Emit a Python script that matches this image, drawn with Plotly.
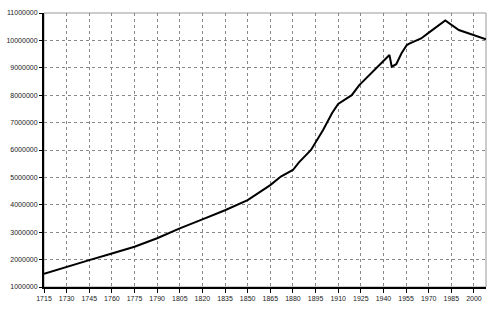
import plotly.graph_objects as go

years = [1715, 1730, 1745, 1760, 1775, 1790, 1805, 1820, 1835, 1850, 1865, 1872, 1880,
         1884, 1892, 1900, 1906, 1910, 1914, 1919, 1924, 1933, 1940, 1944,
         1945.5, 1948.5, 1952, 1955.5, 1957.5, 1965, 1971, 1981, 1990, 2008]
population = [1480000, 1740000, 1980000, 2220000, 2470000, 2780000, 3140000, 3470000,
              3800000, 4170000, 4720000, 5030000, 5270000,
              5550000, 6000000, 6730000, 7350000, 7680000, 7820000, 8000000, 8370000,
              8850000, 9220000, 9470000,
              9040000, 9130000, 9530000, 9830000, 9890000, 10070000, 10320000, 10730000,
              10380000, 10040000]

x_ticks = list(range(1715, 2001, 15))
y_ticks = list(range(1000000, 11000001, 1000000))

fig = go.Figure()
fig.add_trace(go.Scatter(x=years, y=population, mode="lines",
                         line=dict(color="black", width=2), hoverinfo="skip"))

fig.update_layout(
    width=500, height=311,
    margin=dict(l=44, r=14, t=13, b=24, autoexpand=False),
    paper_bgcolor="white", plot_bgcolor="white",
    showlegend=False,
    font=dict(family="Liberation Sans, Arial, sans-serif", size=7, color="#222"),
    shapes=[dict(type="rect", xref="paper", yref="paper", x0=0, x1=1, y0=0, y1=1,
                 line=dict(color="#999", width=1), layer="below")],
)
fig.update_xaxes(range=[1715, 2008], tickvals=x_ticks, ticktext=[str(t) for t in x_ticks],
                 showgrid=True, gridcolor="#888", griddash="dot", gridwidth=1,
                 showline=True, linecolor="black", linewidth=2, automargin=False,
                 ticks="outside", ticklen=4, tickcolor="black", zeroline=False)
fig.update_yaxes(range=[1000000, 11000000], tickvals=y_ticks, ticktext=[str(t) for t in y_ticks],
                 showgrid=True, gridcolor="#888", griddash="dot", gridwidth=1,
                 showline=True, linecolor="black", linewidth=2, automargin=False,
                 ticks="outside", ticklen=3, tickcolor="black", zeroline=False)

fig.write_html("out.html")
